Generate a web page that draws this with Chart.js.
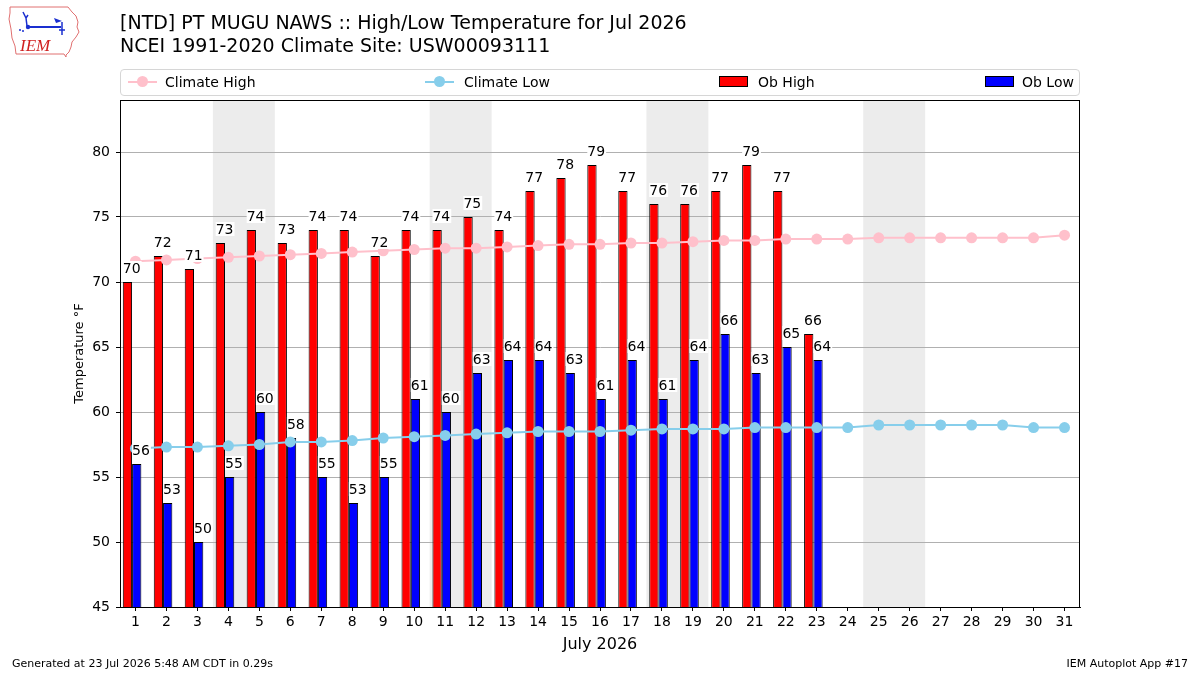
<!DOCTYPE html>
<html>
<head>
<meta charset="utf-8">
<script src="https://cdn.jsdelivr.net/npm/chart.js@4.4.1/dist/chart.umd.min.js"></script>
<style>
  body { margin: 0; background: #fff; font-family: "DejaVu Sans", sans-serif; }
  #wrap { position: relative; width: 1200px; height: 675px; overflow: hidden; }
  #myChart { position: absolute; left: 0; top: 0; }
  .title { position: absolute; left: 120px; top: 11px; font-size: 19px; line-height: 23px; color: #000; white-space: nowrap; }
  .legend { position: absolute; left: 120px; top: 69px; width: 958px; height: 25px; border: 1px solid #d6d6d6; border-radius: 4px; background: rgba(255,255,255,0.8); font-size: 14px; }
  .legend span { position: absolute; top: 4px; white-space: nowrap; }
  .mline { position: absolute; top: 11px; width: 29px; height: 2px; }
  .mdot { position: absolute; top: 6px; width: 11px; height: 11px; border-radius: 50%; }
  .mbox { position: absolute; top: 6px; width: 27px; height: 9px; border: 1px solid #000; }
  .foot { position: absolute; top: 657px; font-size: 11px; white-space: nowrap; }
  #logo { position: absolute; left: 6px; top: 4px; }
</style>
</head>
<body>
<div id="wrap">
  <canvas id="myChart" width="1200" height="675"></canvas>
  <svg id="logo" width="76" height="56" viewBox="0 0 76 56">
    <path d="M4,3 L62,3 L66,8 L70,12 L72,18 L71,23 L73,28 L70,33 L66,38 L65,43 L63,48 L60,51 L60,53 L58,50 L10,50 L9,42 L6,34 L5,25 L3,15 L4,9 Z" fill="none" stroke="#e07070" stroke-width="1"/>
    <path d="M17,8 L20,14 L22,11 M20,14 L21,22" stroke="#1a2fd0" stroke-width="1.5" fill="none"/>
    <circle cx="22" cy="23" r="2.2" fill="#1a2fd0"/>
    <path d="M22,23 L55,23" stroke="#1a2fd0" stroke-width="2"/>
    <path d="M48,14 L56,17 L50,19 Z" fill="#1a2fd0"/>
    <path d="M56,18 L56,31 M53,26 L59,26" stroke="#1a2fd0" stroke-width="1.5"/>
    <circle cx="14" cy="26" r="1" fill="#1a2fd0"/><circle cx="17" cy="27" r="1" fill="#1a2fd0"/>
    <text x="14" y="47" font-family="Liberation Serif, serif" font-style="italic" font-size="17" fill="#d02020">IEM</text>
  </svg>
  <div class="title">[NTD] PT MUGU NAWS :: High/Low Temperature for Jul 2026<br>NCEI 1991-2020 Climate Site: USW00093111</div>
  <div class="legend">
    <div class="mline" style="left:7px;background:#ffc0cb"></div><div class="mdot" style="left:16px;background:#ffc0cb"></div>
    <span style="left:44px">Climate High</span>
    <div class="mline" style="left:304px;background:#87ceeb"></div><div class="mdot" style="left:313px;background:#87ceeb"></div>
    <span style="left:343px">Climate Low</span>
    <div class="mbox" style="left:598px;background:#ff0000"></div>
    <span style="left:637px">Ob High</span>
    <div class="mbox" style="left:864px;background:#0000ff"></div>
    <span style="left:901px">Ob Low</span>
  </div>
  <div class="foot" style="left:12px">Generated at 23 Jul 2026 5:48 AM CDT in 0.29s</div>
  <div class="foot" style="right:12px">IEM Autoplot App #17</div>
</div>
<script>
const days = [1, 2, 3, 4, 5, 6, 7, 8, 9, 10, 11, 12, 13, 14, 15, 16, 17, 18, 19, 20, 21, 22, 23, 24, 25, 26, 27, 28, 29, 30, 31];
const obHigh = [70, 72, 71, 73, 74, 73, 74, 74, 72, 74, 74, 75, 74, 77, 78, 79, 77, 76, 76, 77, 79, 77, 66];
const obLow = [56, 53, 50, 55, 60, 58, 55, 53, 55, 61, 60, 63, 64, 64, 63, 61, 64, 61, 64, 66, 63, 65, 64];
const climateHigh = [71.6, 71.7, 71.8, 71.9, 72.0, 72.1, 72.2, 72.3, 72.4, 72.5, 72.6, 72.6, 72.7, 72.8, 72.9, 72.9,
  73.0, 73.0, 73.1, 73.2, 73.2, 73.3, 73.3, 73.3, 73.4, 73.4, 73.4, 73.4, 73.4, 73.4, 73.6];
const climateLow = [57.2, 57.3, 57.3, 57.4, 57.5, 57.7, 57.7, 57.8, 58.0, 58.1, 58.2, 58.3, 58.4, 58.5, 58.5, 58.5,
  58.6, 58.7, 58.7, 58.7, 58.8, 58.8, 58.8, 58.8, 59.0, 59.0, 59.0, 59.0, 59.0, 58.8, 58.8];
const weekends = [[4, 5], [11, 12], [18, 19], [25, 26]];
const yTicks = [45, 50, 55, 60, 65, 70, 75, 80];

const barShift = -0.11; // bar pair sits a bit left of the day tick

const toPoints = (vals, shift) => vals.map((v, i) => ({ x: days[i] + shift, y: v }));

// grey bands behind the weekends
const shadePlugin = {
  id: 'shade',
  beforeDraw(chart) {
    const { ctx, chartArea, scales } = chart;
    ctx.save();
    ctx.fillStyle = '#ececec';
    weekends.forEach(w => {
      const x0 = scales.x.getPixelForValue(w[0] - 0.5);
      const x1 = scales.x.getPixelForValue(w[1] + 0.5);
      ctx.fillRect(x0, chartArea.top, x1 - x0, chartArea.bottom - chartArea.top);
    });
    ctx.restore();
  }
};

// value labels on bars + frame around plot
const labelPlugin = {
  id: 'barLabels',
  afterDatasetsDraw(chart) {
    const ctx = chart.ctx;
    ctx.save();
    ctx.font = '14px "DejaVu Sans"';
    ctx.textBaseline = 'alphabetic';
    ctx.textAlign = 'left';
    chart.data.datasets.forEach((ds, di) => {
      if (ds.type !== 'bar') return;
      const meta = chart.getDatasetMeta(di);
      meta.data.forEach((bar, i) => {
        const txt = String(ds.data[i].y);
        const left = bar.x - bar.width / 2;
        const base = bar.y - 9;
        const w = ctx.measureText(txt).width;
        ctx.fillStyle = '#fff';
        ctx.fillRect(left, base - 12, w + 1, 14);
        ctx.fillStyle = '#000';
        ctx.fillText(txt, left, base);
      });
    });
    const a = chart.chartArea;
    ctx.strokeStyle = '#000';
    ctx.lineWidth = 1;
    ctx.strokeRect(a.left + 0.5, a.top + 0.5, a.right - a.left - 1, a.bottom - a.top);
    ctx.restore();
  }
};

const ctx = document.getElementById('myChart');

new Chart(ctx, {
  type: 'bar',
  data: {
    datasets: [
      {
        type: 'line',
        label: 'Climate High',
        data: toPoints(climateHigh, 0),
        borderColor: '#ffc0cb',
        backgroundColor: '#ffc0cb',
        borderWidth: 2,
        pointRadius: 5.5,
        pointBorderWidth: 0,
        order: 0
      },
      {
        type: 'line',
        label: 'Climate Low',
        data: toPoints(climateLow, 0),
        borderColor: '#87ceeb',
        backgroundColor: '#87ceeb',
        borderWidth: 2,
        pointRadius: 5.5,
        pointBorderWidth: 0,
        order: 0
      },
      {
        type: 'bar',
        label: 'Ob High',
        data: toPoints(obHigh, barShift),
        backgroundColor: '#ff0000',
        borderColor: '#000',
        borderWidth: 1,
        categoryPercentage: 0.6,
        barPercentage: 1.0,
        order: 1
      },
      {
        type: 'bar',
        label: 'Ob Low',
        data: toPoints(obLow, barShift),
        backgroundColor: '#0000ff',
        borderColor: '#000',
        borderWidth: 1,
        categoryPercentage: 0.6,
        barPercentage: 1.0,
        order: 1
      }
    ]
  },
  options: {
    responsive: false,
    animation: false,
    layout: { padding: { left: 70, right: 120, top: 100, bottom: 0 } },
    plugins: {
      legend: { display: false },
      tooltip: { enabled: false }
    },
    scales: {
      x: {
        type: 'linear',
        min: 0.5,
        max: 31.5,
        offset: false,
        afterBuildTicks: s => { s.ticks = days.map(d => ({ value: d })); },
        afterFit: s => { s.height = 68; },
        ticks: { color: '#000', font: { family: 'DejaVu Sans', size: 14 }, padding: 3, maxRotation: 0, autoSkip: false },
        grid: { drawOnChartArea: false, offset: false, tickLength: 4, tickColor: '#000' },
        border: { color: '#000' },
        title: { display: true, text: 'July 2026', color: '#000', font: { family: 'DejaVu Sans', size: 16 }, padding: { top: 0, bottom: 21 } }
      },
      y: {
        min: 45,
        max: 84,
        afterBuildTicks: s => { s.ticks = yTicks.map(v => ({ value: v })); },
        afterFit: s => { s.width = 50; },
        ticks: { color: '#000', font: { family: 'DejaVu Sans', size: 14 }, padding: 6 },
        grid: { color: '#b0b0b0', tickLength: 4, tickColor: '#000' },
        border: { color: '#000' },
        title: { display: true, text: 'Temperature °F', color: '#000', font: { family: 'DejaVu Sans', size: 13 }, padding: { top: 2, bottom: 0 } }
      }
    }
  },
  plugins: [shadePlugin, labelPlugin]
});
</script>
</body>
</html>
